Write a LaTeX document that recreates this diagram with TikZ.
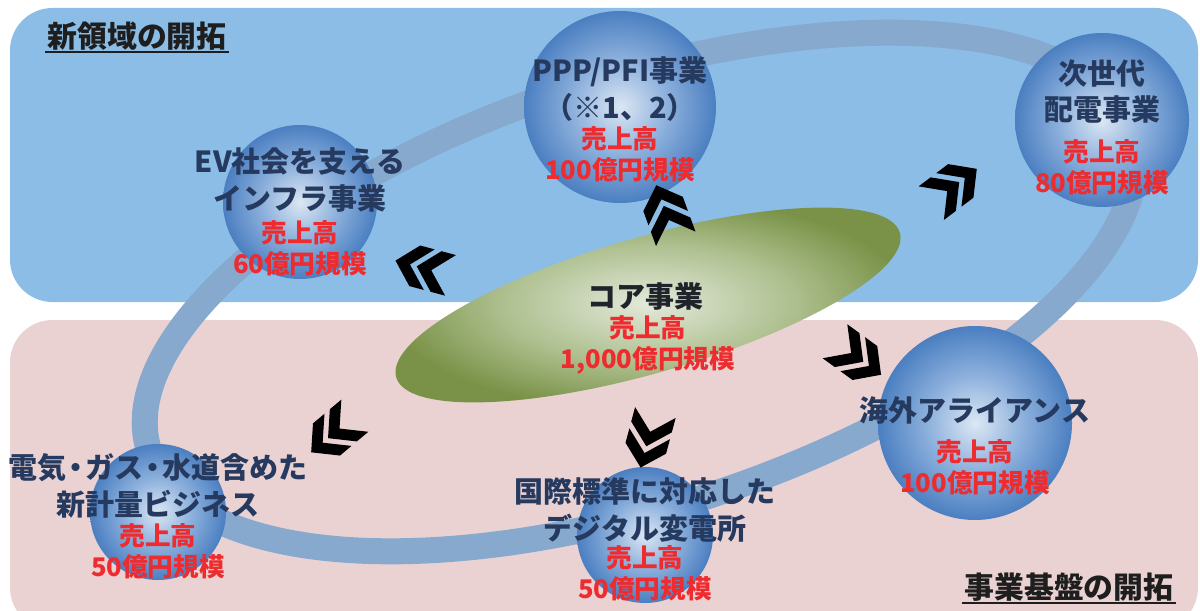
\documentclass[tikz,border=0pt]{standalone}
\usepackage{fontspec}
\newfontfamily\jpfont{Noto Sans CJK JP}
\usetikzlibrary{shapes.geometric}

\definecolor{upperbg}{HTML}{8BBDE6}
\definecolor{lowerbg}{HTML}{EBD2D2}
\definecolor{ringblue}{HTML}{87A9CD}
\definecolor{navy}{HTML}{253A5E}
\definecolor{salesred}{HTML}{EE2B2E}
\definecolor{headingtext}{HTML}{1E1E1E}
\definecolor{sphcenter}{HTML}{DCE7F3}
\definecolor{sphmid}{HTML}{8FB2DD}
\definecolor{sphedge}{HTML}{4B7FC1}
\definecolor{corecenter}{HTML}{E3E9DA}
\definecolor{coremid}{HTML}{ADBF8E}
\definecolor{coreedge}{HTML}{7A9248}

\pgfdeclareradialshading{spherefill}{\pgfpoint{0bp}{0bp}}{color(0bp)=(sphcenter); color(12bp)=(sphmid); color(25bp)=(sphedge); color(50bp)=(sphedge)}
\pgfdeclareradialshading{corefill}{\pgfpoint{0bp}{0bp}}{color(0bp)=(corecenter); color(14bp)=(coremid); color(25bp)=(coreedge); color(50bp)=(coreedge)}

\newcommand{\narrowdot}{\kern-0.17em・\kern-0.17em}

\tikzset{
  sphere/.style={circle, shading=spherefill},
  navylabel/.style={text=navy, font=\jpfont\bfseries\fontsize{16.5}{21}\selectfont, align=center, inner sep=0pt},
  redlabel/.style={text=salesred, font=\jpfont\bfseries\fontsize{14.6}{17.6}\selectfont, align=center, inner sep=0pt},
  heading/.style={text=headingtext, font=\jpfont\bfseries\fontsize{17}{20}\selectfont, inner sep=1pt},
  chevrons/.pic={
    \foreach \back in {0,0.44}
      \fill[black, xshift=-\back cm] (0.57,0) -- (0.17,0.42) -- (-0.13,0.42) -- (0.27,0) -- (-0.13,-0.42) -- (0.17,-0.42) -- cycle;
  }
}

\begin{document}
\begin{tikzpicture}
    \useasboundingbox (0,0) rectangle (24,12.2);

    % two fields
    \fill[upperbg, rounded corners=0.85cm] (0.2,6.16) rectangle (23.96,12.04);
    \fill[lowerbg, rounded corners=0.85cm] (0.2,-0.4) rectangle (23.96,5.8);

    % ring
    \draw[ringblue, line width=0.52cm, rotate around={18:(12.8,6.36)}] (12.8,6.36) ellipse [x radius=10.32, y radius=4.3];

    % core business
    \node[ellipse, shading=corefill, minimum width=10.48cm, minimum height=2.72cm, rotate=16] (core) at (12.96,6.1) {};
    \node[navylabel, text=headingtext!80!navy] (core-name) at ([shift={(-0.06,0.16)}]core.center) {コア事業};
    \node[redlabel] (core-sales) at ([shift={(0,-0.8)}]core.center) {売上高\\1,000億円規模};

    % business spheres
    \node[sphere, minimum size=3.84cm] (ppp) at (12.4,10.06) {};
    \node[sphere, minimum size=3.48cm] (nextgrid) at (22.04,9.8) {};
    \node[sphere, minimum size=3.08cm] (ev) at (6.0,8.16) {};
    \node[sphere, minimum size=2.72cm] (metering) at (3.16,1.96) {};
    \node[sphere, minimum size=2.72cm] (substation) at (12.9,1.5) {};
    \node[sphere, minimum size=3.88cm] (alliance) at (19.5,3.74) {};

    \node[navylabel] (ppp-name) at ([yshift=0.36cm]ppp.center) {PPP/PFI事業\\（※1、2）};
    \node[redlabel] (ppp-sales) at ([yshift=-0.94cm]ppp.center) {売上高\\100億円規模};

    \node[navylabel] (nextgrid-name) at ([yshift=0.57cm]nextgrid.center) {次世代\\配電事業};
    \node[redlabel] (nextgrid-sales) at ([yshift=-0.95cm]nextgrid.center) {売上高\\80億円規模};

    \node[navylabel] (ev-name) at ([yshift=0.44cm]ev.center) {EV社会を支える\\インフラ事業};
    \node[redlabel] (ev-sales) at ([yshift=-0.92cm]ev.center) {売上高\\60億円規模};

    \node[navylabel] (metering-name) at ([yshift=0.53cm]metering.center) {電気\narrowdot ガス\narrowdot 水道含めた\\新計量ビジネス};
    \node[redlabel] (metering-sales) at ([yshift=-0.79cm]metering.center) {売上高\\50億円規模};

    \node[navylabel] (substation-name) at ([yshift=0.51cm]substation.center) {国際標準に対応した\\デジタル変電所};
    \node[redlabel] (substation-sales) at ([yshift=-0.76cm]substation.center) {売上高\\50億円規模};

    \node[navylabel] (alliance-name) at ([yshift=0.26cm]alliance.center) {海外アライアンス};
    \node[redlabel] (alliance-sales) at ([yshift=-0.88cm]alliance.center) {売上高\\100億円規模};

    % growth arrows from the core
    \pic[rotate=110] at (13.32,7.96) {chevrons};
    \pic[rotate=165] at (8.46,6.84) {chevrons};
    \pic[rotate=37] at (19.08,8.48) {chevrons};
    \pic[rotate=-36] at (17.16,5.04) {chevrons};
    \pic[rotate=-105] at (12.96,3.4) {chevrons};
    \pic[rotate=-140] at (6.66,3.52) {chevrons};

    % headings
    \node[heading] (newfield) at (2.74,11.48) {新領域の開拓};
    \draw[headingtext, line width=1.2pt] (newfield.south west) -- (newfield.south east);
    \node[heading] (foundation) at (21.38,0.46) {事業基盤の開拓};
    \draw[headingtext, line width=1.2pt] (foundation.south west) -- (foundation.south east);
\end{tikzpicture}
\end{document}
